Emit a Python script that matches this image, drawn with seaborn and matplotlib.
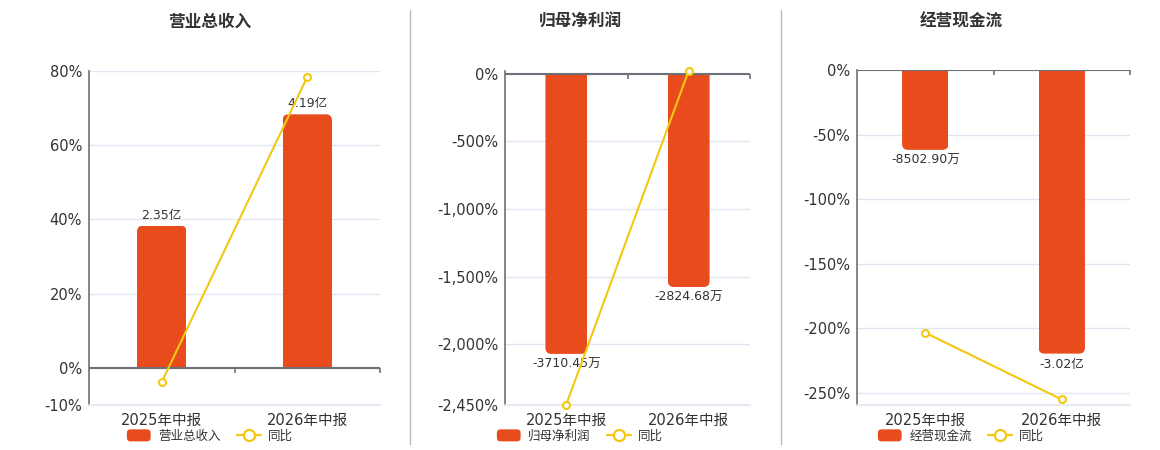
import matplotlib
matplotlib.use("Agg")
import matplotlib.pyplot as plt
import seaborn as sns
import pandas as pd
from matplotlib.patches import FancyBboxPatch, Patch
from matplotlib.lines import Line2D
from matplotlib.legend_handler import HandlerPatch

# ---------------- data ----------------
periods = ["2025年中报", "2026年中报"]

rev_title = "营业总收入"
rev_values = [2.35, 4.19]            # 亿
rev_labels = ["2.35亿", "4.19亿"]
rev_yoy = [-3.8, 78.3]               # %
rev_ticks = [80, 60, 40, 20, 0, -10]

np_title = "归母净利润"
np_values = [-3710.45, -2824.68]     # 万
np_labels = ["-3710.45万", "-2824.68万"]
np_yoy = [-2447.0, 23.87]            # %
np_ticks = [0, -500, -1000, -1500, -2000, -2450]

cf_title = "经营现金流"
cf_values = [-8502.90, -30200.0]     # 万
cf_labels = ["-8502.90万", "-3.02亿"]
cf_yoy = [-203.5, -255.2]            # %
cf_ticks = [0, -50, -100, -150, -200, -250]

# ---------------- style ----------------
sns.set_theme(style="white")
plt.rcParams["font.family"] = ["DejaVu Sans", "Noto Sans CJK SC"]

BAR = "#E84C1D"
LINE = "#F2C811"
TXT = "#333333"
AX = "#6E7079"
GRID = "#E0E6F1"

W, H = 1160, 450
fig = plt.figure(figsize=(W / 100, H / 100), dpi=100)
fig.patch.set_facecolor("white")


class RoundPatchHandler(HandlerPatch):
    def create_artists(self, legend, orig_handle, xdescent, ydescent, width, height,
                       fontsize, trans):
        p = FancyBboxPatch((-xdescent, -ydescent), width, height,
                           boxstyle=f"round,pad=0,rounding_size={height * 0.3}",
                           facecolor=orig_handle.get_facecolor(), edgecolor="none",
                           transform=trans)
        return [p]


panels = [
    dict(title=rev_title, vals=rev_values, labels=rev_labels, yoy=rev_yoy, ticks=rev_ticks,
         plim=(-10, 80), bar_ref=(4.19, 68.25), box=(89, 70.7, 380, 405), center=210),
    dict(title=np_title, vals=np_values, labels=np_labels, yoy=np_yoy, ticks=np_ticks,
         plim=(-2450, 23.87), bar_ref=(-3710.45, -2072.0), box=(505, 70.5, 750, 405), center=580),
    dict(title=cf_title, vals=cf_values, labels=cf_labels, yoy=cf_yoy, ticks=cf_ticks,
         plim=(-259.5, 0), bar_ref=(-30200.0, -219.7), box=(857, 70, 1130, 405), center=961),
]


def fmt_pct(v):
    return f"{int(v):,}%"


for p in panels:
    x0, y0, x1, y1 = p["box"]
    rect = [x0 / W, 1 - y1 / H, (x1 - x0) / W, (y1 - y0) / H]
    ax = fig.add_axes(rect)          # grid + percent ticks + category labels
    axb = ax.twinx()                 # bars (money scale)
    axl = ax.twinx()                 # line (percent scale)

    plo, phi = p["plim"]
    mv, pv = p["bar_ref"]
    k = mv / pv
    mlo, mhi = plo * k, phi * k

    df_bar = pd.DataFrame({"period": periods, "value": p["vals"]})
    df_line = pd.DataFrame({"period": periods, "yoy": p["yoy"]})

    sns.barplot(data=df_bar, x="period", y="value", ax=axb, color=BAR,
                width=0.34, saturation=1, errorbar=None)
    sns.lineplot(data=df_line, x="period", y="yoy", ax=axl, color=LINE,
                 linewidth=1.5, marker="o", markersize=5,
                 markerfacecolor="white", markeredgecolor=LINE, markeredgewidth=1.5)
    for ln in axl.lines:
        ln.set_clip_on(False)
        ln.set_zorder(4)

    for a in (ax, axb, axl):
        a.set_xlim(-0.5, 1.5)
        a.set_xlabel("")
        a.set_ylabel("")
        for s in a.spines.values():
            s.set_visible(False)
        a.patch.set_visible(False)
    ax.patch.set_visible(True)
    ax.patch.set_facecolor("white")

    ax.set_ylim(plo, phi)
    axl.set_ylim(plo, phi)
    axb.set_ylim(mlo, mhi)

    for a in (axb, axl):
        a.set_yticks([])
        a.tick_params(axis="x", which="both", bottom=False, labelbottom=False,
                      top=False, labeltop=False)

    # percent axis ticks + grid + category labels
    ax.set_yticks(p["ticks"])
    ax.set_yticklabels([fmt_pct(t) for t in p["ticks"]])
    ax.tick_params(axis="y", length=0, pad=5, labelsize=10.5, labelcolor=TXT)
    ax.yaxis.grid(True, color=GRID, linewidth=1)
    ax.set_axisbelow(True)
    ax.set_xticks([0, 1])
    ax.set_xticklabels(periods)
    ax.tick_params(axis="x", length=0, pad=6, labelsize=10.5, labelcolor=TXT,
                   bottom=True, labelbottom=True)
    ax.spines["bottom"].set_visible(True)
    ax.spines["bottom"].set_color(GRID)
    ax.spines["left"].set_visible(True)
    ax.spines["left"].set_color(AX)
    ax.spines["left"].set_linewidth(1.2)

    # zero axis line with category-boundary ticks (on the top layer)
    axl.axhline(0, color=AX, linewidth=1.5, zorder=1)
    tick_len = (phi - plo) / (y1 - y0) * 5
    axl.vlines([0.5, 1.5], 0, -tick_len, color=AX, linewidth=1.2, clip_on=False)
    axl.set_zorder(3)

    # bar value labels
    axb.bar_label(axb.containers[0], labels=p["labels"], padding=3,
                  fontsize=9, color=TXT)

    # rounded outer ends of bars
    px_x = (x1 - x0) / 2.0
    px_y = (y1 - y0) / (mhi - mlo)
    r_px = 6
    rx = r_px / px_x
    ry = r_px / px_y
    for bar in axb.patches:
        bx, by, bw, bh = bar.get_x(), bar.get_y(), bar.get_width(), bar.get_height()
        lo, hi = min(by, by + bh), max(by, by + bh)
        if bh >= 0:
            cy, ch = lo - ry, (hi - lo) + ry
        else:
            cy, ch = lo, (hi - lo) + ry
        clip = FancyBboxPatch((bx, cy), bw, ch,
                              boxstyle=f"round,pad=0,rounding_size={rx}",
                              mutation_aspect=ry / rx,
                              transform=axb.transData, facecolor="none", edgecolor="none")
        bar.set_clip_path(clip)
        bar.set_edgecolor("none")

    # title
    fig.text(p["center"] / W, 1 - 22 / H, p["title"], ha="center", va="center",
             fontsize=12, fontweight="bold", color=TXT)

    # legend
    bar_handle = Patch(facecolor=BAR, edgecolor="none", label=p["title"])
    handles = [
        bar_handle,
        Line2D([0], [0], color=LINE, linewidth=1.6, marker="o", markersize=8,
               markerfacecolor="white", markeredgecolor=LINE, markeredgewidth=1.6, label="同比"),
    ]
    fig.legend(handles=handles, loc="center", bbox_to_anchor=(p["center"] / W, 1 - 436 / H),
               ncol=2, frameon=False, fontsize=9, labelcolor=TXT,
               handlelength=1.9, handleheight=1.1, handletextpad=0.6, columnspacing=1.3,
               borderpad=0, borderaxespad=0,
               handler_map={Patch: RoundPatchHandler()})

# separators
for sx in (410, 781):
    fig.add_artist(Line2D([sx / W, sx / W], [1 - 10 / H, 1 - 444 / H],
                          color="#BBBBBB", linewidth=1, transform=fig.transFigure))

fig.savefig("out.png", dpi=100, facecolor="white")
